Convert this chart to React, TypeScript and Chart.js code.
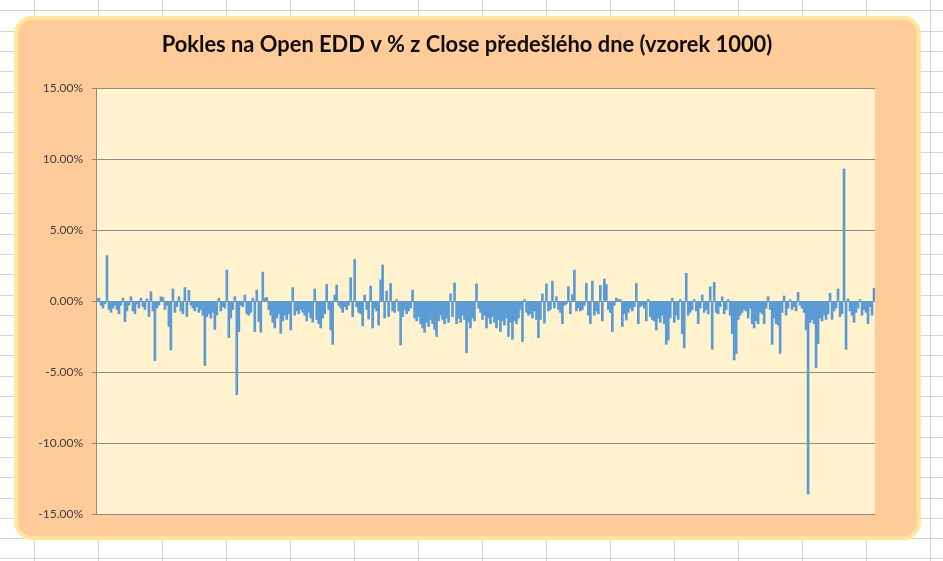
import { useEffect, useRef } from "react";
import { Chart, registerables } from "chart.js";

Chart.register(...registerables);

const TITLE = "Pokles na Open EDD v % z Close předešlého dne (vzorek 1000)";
const Y_MIN = -15;
const Y_MAX = 15;
const Y_STEP = 5;

// Daily drop (%), left to right, in six stretches
const seg1 = [
  0.15, 0.2, -0.3, -0.5, -0.2, 3.2, -0.6, -0.8, -0.5, -0.3,
  -0.6, -0.9, -0.3, 0.2, -1.45, -0.7, -0.3, 0.3, -0.7, -0.9,
  -0.2, -0.5, 0.2, -0.4, -0.6, 0.15, -1.1, 0.65, -0.7, -4.2,
  -0.5, -0.3, 0.3, 0.25, -0.6, -0.3, -1.8, -3.45, 0.85, -0.8,
  -0.4, 0.3, -0.7, -0.9, 0.95, -1.1, 0.75, -0.3, -0.5, -0.7,
  -0.4, -0.8, -0.6, -1.0, -4.55, -1.1, -0.9, -1.2, -0.8, -2.0,
  -1.0, 0.2, -0.7, -0.4,
];
const seg2 = [
  -0.5, 2.18, -2.58, -1.2, -0.6, 0.3, -6.6, -2.15, -0.3, -0.4,
  0.42, -0.9, -1.0, -0.8, 0.2, -2.15, 0.77, -1.45, -2.2, 2.04,
  0.2, 0.25, -0.6, -1.0, -1.5, -1.9, -1.2, -0.9, -2.28, -1.4,
  -1.0, -1.3, -0.9, -2.04, 0.94, -1.0, -0.7, -0.9, -0.6, -0.8,
  -1.0, -1.4, -0.8, -1.2, -1.5, 0.85, -1.3, -1.6, -1.9, -1.2,
  -0.9, 1.17, -0.6, -2.04, -3.05, 0.42, 1.13, -0.3, -0.5, -0.8,
  -0.4, -0.6, -0.3, 1.64, -1.1, 2.93,
];
const seg3 = [
  -0.4, -0.8, -0.9, -1.75, 0.42, -0.6, -1.27, 1.05, -1.9, -0.5,
  -0.7, -1.7, 1.48, 2.54, -1.2, 0.7, -1.1, 1.24, -0.7, -0.8,
  0.1, -0.7, -3.1, -1.1, -0.6, -0.9, -0.7, -0.5, 0.77, -1.2,
  -1.4, -1.1, -1.6, -1.9, -2.2, -1.5, -1.8, -1.3, -1.6, -2.0,
  -2.5, -1.4, -1.0, -1.3, -1.6, -1.2, -1.5, 0.5, -1.1, 1.27,
  -1.6, -1.2, -1.5, -1.0, -1.3, -3.64, -1.5, -1.9, -1.2, -1.4,
  1.2, -0.5, -0.8, -1.3, -1.0, -1.9,
];
const seg4 = [
  -1.2, -1.6, -1.1, -1.5, -1.9, -1.3, -2.15, -1.4, -1.7, -1.2,
  -2.5, -1.5, -2.7, -1.4, -1.6, -1.2, -0.6, -2.86, 0.1, -0.8,
  -1.0, -0.9, -1.2, -0.7, -1.3, -2.58, -1.3, 0.5, -1.57, 1.2,
  -0.7, -0.6, 1.4, -0.5, 0.3, -0.6, -0.8, -1.6, -0.3, -0.2,
  1.0, -0.9, 0.45, 2.18, -0.7, -0.5, -0.7, -0.6, -0.3, 1.24,
  -1.0, -1.6, 1.4, -1.0, -0.7, -0.9, 1.1, -1.4, 1.55, 1.17,
  -0.6, -0.8, -2.15, -0.3, 0.2, 0.1,
];
const seg5 = [
  0.1, -1.8, -0.9, -1.34, -0.8, -0.5, -0.7, -0.4, 1.24, -1.6,
  -0.4, -0.3, -0.5, -1.4, 0.1, -1.1, -1.3, -1.4, -2.04, -1.2,
  -1.5, -1.0, -1.6, -3.05, -2.75, -1.2, 0.2, -1.5, -1.0, -1.3,
  0.1, -2.3, -3.3, 1.95, -1.0, -0.8, -0.6, 0.1, -0.7, -1.6,
  -0.5, 0.42, -0.8, -0.6, -0.9, 1.0, -3.4, 1.31, -0.8, -0.9,
  -0.4, 0.3, -0.9, -0.6, 0.1, -1.0, -2.3, -4.15, -3.7, -1.3,
  -1.0, -0.8, -0.6, -0.7, -1.2, -0.5,
];
const seg6 = [
  -1.6, -1.9, -1.4, -1.6, -0.8, -0.9, -1.6, -0.5, 0.3, -0.6,
  -3.05, -1.2, -1.6, -1.7, -3.69, -0.8, 0.35, -1.0, -0.5, 0.1,
  -0.6, -0.4, -0.7, 0.6, -0.3, -0.5, -0.8, -2.04, -13.6, -1.5,
  -1.3, -1.6, -4.7, -3.0, -1.2, -1.4, -1.0, -1.3, -0.9, 0.54,
  -1.3, -0.7, -0.5, 0.85, -1.1, -0.9, 9.3, -3.4, 0.15, -0.7,
  -1.0, -1.5, -0.8, -0.5, 0.1, -1.0, -0.6, -0.8, -1.6, -0.4,
  -1.0, 0.9,
];

const values = [...seg1, ...seg2, ...seg3, ...seg4, ...seg5, ...seg6];
const labels = values.map((_, i) => String(i + 1));

const backgroundPlugin = {
  id: "sheetBackground",
  beforeDraw(chart: any) {
    const ctx = chart.ctx as CanvasRenderingContext2D;
    const w = chart.width;
    const h = chart.height;
    ctx.save();
    // spreadsheet
    ctx.fillStyle = "#ffffff";
    ctx.fillRect(0, 0, w, h);
    ctx.strokeStyle = "#d4d4d4";
    ctx.lineWidth = 1;
    ctx.beginPath();
    for (let x = 34; x < w; x += 64) {
      ctx.moveTo(x + 0.5, 0);
      ctx.lineTo(x + 0.5, h);
    }
    for (let k = 0; k < 30; k++) {
      const y = Math.round(10.3 + 20.3 * k) + 0.5;
      ctx.moveTo(0, y);
      ctx.lineTo(w, y);
    }
    ctx.stroke();
    // chart frame
    const fx = 16.2, fy = 17.8, fw = 902.6, fh = 520.5, r = 16;
    ctx.beginPath();
    ctx.moveTo(fx + r, fy);
    ctx.lineTo(fx + fw - r, fy);
    ctx.arcTo(fx + fw, fy, fx + fw, fy + r, r);
    ctx.lineTo(fx + fw, fy + fh - r);
    ctx.arcTo(fx + fw, fy + fh, fx + fw - r, fy + fh, r);
    ctx.lineTo(fx + r, fy + fh);
    ctx.arcTo(fx, fy + fh, fx, fy + fh - r, r);
    ctx.lineTo(fx, fy + r);
    ctx.arcTo(fx, fy, fx + r, fy, r);
    ctx.closePath();
    ctx.fillStyle = "#FFCC99";
    ctx.fill();
    ctx.lineWidth = 4;
    ctx.strokeStyle = "#FFE699";
    ctx.stroke();
    // plot area
    const a = chart.chartArea;
    ctx.fillStyle = "#FFF2CC";
    ctx.fillRect(a.left, a.top, a.right - a.left, a.bottom - a.top);
    // title
    let size = 20;
    ctx.font = `bold ${size}px Lato`;
    const mw = ctx.measureText(TITLE).width;
    size = (size * 611) / mw;
    ctx.font = `bold ${size.toFixed(2)}px Lato`;
    ctx.fillStyle = "#0d0d0d";
    ctx.textAlign = "center";
    ctx.textBaseline = "alphabetic";
    ctx.fillText(TITLE, 467, 52);
    ctx.restore();
  },
};

export default function App() {
  const ref = useRef<HTMLCanvasElement | null>(null);
  useEffect(() => {
    if (!ref.current) return;
    const chart = new Chart(ref.current, {
      type: "bar",
      data: {
        labels,
        datasets: [
          {
            data: values,
            backgroundColor: "#5B9BD5",
            borderWidth: 0,
            barPercentage: 1,
            categoryPercentage: 1,
          },
        ],
      },
      options: {
        responsive: false,
        animation: false,
        devicePixelRatio: 1,
        layout: { padding: { left: 15, top: 88, right: 68, bottom: 47 } },
        plugins: {
          legend: { display: false },
          title: { display: false },
          tooltip: { enabled: false },
        },
        scales: {
          x: { display: false },
          y: {
            min: Y_MIN,
            max: Y_MAX,
            afterFit: (s: any) => {
              s.width = 81;
            },
            ticks: {
              stepSize: Y_STEP,
              padding: 9,
              color: "#404040",
              font: { family: "Lato", size: 12 },
              callback: (v: any) => Number(v).toFixed(2) + "%",
            },
            grid: { color: "#8c8c8c", tickLength: 4, drawTicks: true },
            border: { color: "#8c8c8c" },
          },
        },
      },
      plugins: [backgroundPlugin],
    });
    return () => chart.destroy();
  }, []);
  return (
    <canvas
      ref={ref}
      width={943}
      height={561}
      style={{ position: "fixed", left: 0, top: 0, display: "block" }}
    />
  );
}
